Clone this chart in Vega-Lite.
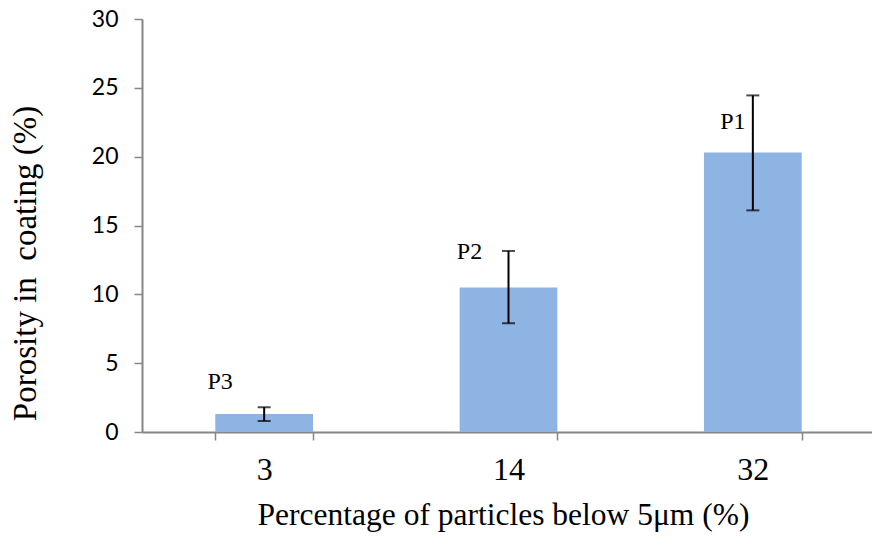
{
  "$schema": "https://vega.github.io/schema/vega-lite/v6.json",
  "autosize": "none",
  "padding": {"left": 142, "top": 19, "right": 0, "bottom": 107},
  "width": 733,
  "height": 413,
  "background": "white",
  "config": {"view": {"stroke": null}},
  "data": {
    "values": [
      {"pct": "3", "porosity": 1.3, "lo": 0.8, "hi": 1.8, "label": "P3", "labelY": 3.6},
      {"pct": "14", "porosity": 10.5, "lo": 7.9, "hi": 13.15, "label": "P2", "labelY": 13.1},
      {"pct": "32", "porosity": 20.3, "lo": 16.1, "hi": 24.45, "label": "P1", "labelY": 22.5}
    ]
  },
  "encoding": {
    "x": {
      "field": "pct",
      "type": "ordinal",
      "sort": ["3", "14", "32"],
      "scale": {"paddingInner": 0.6, "paddingOuter": 0.3},
      "axis": {
        "title": "Percentage of particles below 5μm (%)",
        "titleFont": "Liberation Serif",
        "titleFontSize": 31.5,
        "titleFontWeight": "normal",
        "titleColor": "black",
        "titleBaseline": "alphabetic",
        "titleY": 92,
        "titleX": 361,
        "labelAngle": 0,
        "labelFont": "Liberation Serif",
        "labelFontSize": 32,
        "labelColor": "black",
        "labelPadding": 14,
        "tickBand": "extent",
        "tickSize": 8,
        "tickColor": "#868686",
        "tickWidth": 1.5,
        "domainColor": "#868686",
        "domainWidth": 2
      }
    }
  },
  "layer": [
    {
      "mark": {"type": "bar", "color": "#8EB4E3"},
      "encoding": {
        "y": {
          "field": "porosity",
          "type": "quantitative",
          "scale": {"domain": [0, 30], "nice": false},
          "axis": {
            "values": [0, 5, 10, 15, 20, 25, 30],
            "title": "Porosity in\u00a0 coating (%)",
            "titleFont": "Liberation Serif",
            "titleFontSize": 33,
            "titleFontWeight": "normal",
            "titleColor": "black",
            "titleAngle": -90,
            "titleBaseline": "alphabetic",
            "titleAlign": "center",
            "titleX": -107,
            "titleY": 244,
            "labelFont": "Lato",
            "labelFontSize": 23,
            "labelColor": "black",
            "labelPadding": 16,
            "tickSize": 8,
            "tickColor": "#868686",
            "tickWidth": 1.5,
            "domainColor": "#868686",
            "domainWidth": 2,
            "grid": false
          }
        }
      }
    },
    {
      "mark": {"type": "rule", "color": "black", "strokeWidth": 2},
      "encoding": {
        "y": {"field": "lo", "type": "quantitative"},
        "y2": {"field": "hi"}
      }
    },
    {
      "mark": {"type": "tick", "color": "black", "size": 13, "thickness": 2},
      "encoding": {"y": {"field": "lo", "type": "quantitative"}}
    },
    {
      "mark": {"type": "tick", "color": "black", "size": 13, "thickness": 2},
      "encoding": {"y": {"field": "hi", "type": "quantitative"}}
    },
    {
      "transform": [{"filter": "datum.label == 'P3'"}],
      "mark": {"type": "text", "font": "Liberation Serif", "fontSize": 24, "color": "black", "dx": -44, "baseline": "middle"},
      "encoding": {"y": {"field": "labelY", "type": "quantitative"}, "text": {"field": "label"}}
    },
    {
      "transform": [{"filter": "datum.label == 'P2'"}],
      "mark": {"type": "text", "font": "Liberation Serif", "fontSize": 24, "color": "black", "dx": -39, "baseline": "middle"},
      "encoding": {"y": {"field": "labelY", "type": "quantitative"}, "text": {"field": "label"}}
    },
    {
      "transform": [{"filter": "datum.label == 'P1'"}],
      "mark": {"type": "text", "font": "Liberation Serif", "fontSize": 24, "color": "black", "dx": -20, "baseline": "middle"},
      "encoding": {"y": {"field": "labelY", "type": "quantitative"}, "text": {"field": "label"}}
    }
  ]
}
